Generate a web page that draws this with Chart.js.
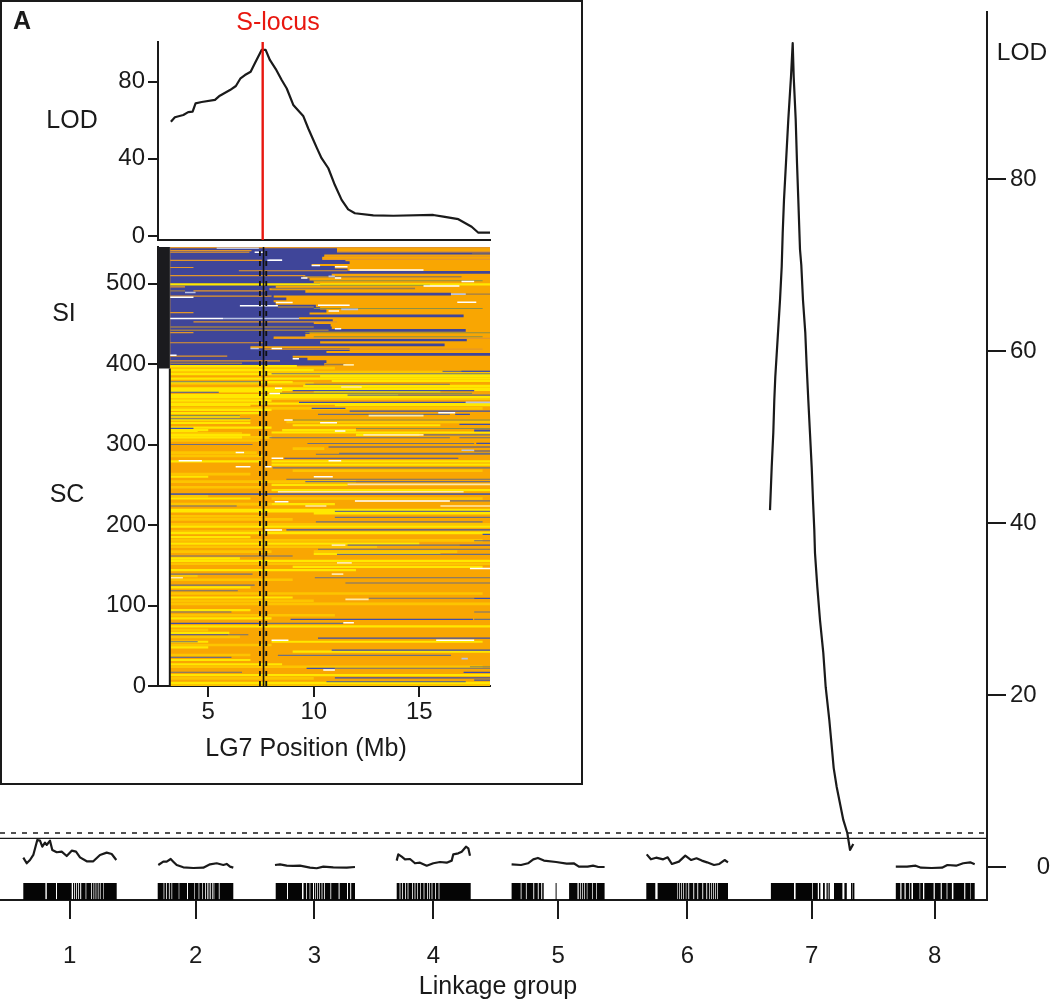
<!DOCTYPE html>
<html><head><meta charset="utf-8"><title>LOD scan</title>
<script src="https://cdn.jsdelivr.net/npm/chart.js@4/dist/chart.umd.js"></script>
<style>
html,body{margin:0;padding:0;background:#fff;overflow:hidden}
#page{position:relative;width:1050px;height:999px;font-family:"Liberation Sans",Arial,sans-serif;color:#1a1a1a}
canvas{position:absolute;display:block}
#inset{position:absolute;left:0;top:0;width:579px;height:781px;border:2px solid #1a1a1a;background:#fff}
.t{position:absolute;font-size:25px;line-height:30px;white-space:nowrap;transform:translate(-50%,-50%)}
</style></head><body><div id="page">
<canvas id="main" width="1050" height="999" style="left:0px;top:0px"></canvas>
<div id="inset"></div>
<canvas id="lod" width="582" height="260" style="left:0px;top:0px"></canvas>
<canvas id="heat" width="582" height="530" style="left:0px;top:245px"></canvas>
<div class="t" style="left:498px;top:985px">Linkage group</div>
<div class="t" style="left:1022px;top:52px;font-size:24.5px">LOD</div>
<div class="t" style="left:22px;top:20px;font-weight:bold">A</div>
<div class="t" style="left:278px;top:21px;color:#e8170f">S-locus</div>
<div class="t" style="left:72px;top:119px">LOD</div>
<div class="t" style="left:64px;top:312px">SI</div>
<div class="t" style="left:67px;top:493px">SC</div>
<div class="t" style="left:306px;top:747px">LG7 Position (Mb)</div>
</div>
<script>
// ---- Main genome scan: position along the map, LOD ----
const linkageGroups=['1','2','3','4','5','6','7','8'];
const lgTicks=[69.7,195.7,314.3,433.3,558.2,687.4,811.6,934.7];
const lodTicks=[0,20,40,60,80];
const thresholdDashed=3.95, thresholdSolid=3.33;
const lg1=[[23.3,1.08],[26.7,.43],[30,.81],[33.3,1.4],[37.3,3.14],[40,3.06],[42.3,2.36],[45,2.83],[46.7,2.56],[50,3.06],[52.3,1.98],[56.7,1.71],[61.7,1.78],[66.7,1.28],[71.7,1.9],[76,1.78],[80,1.12],[86.7,.66],[93.3,.66],[100,1.4],[106.7,1.67],[111.7,1.51],[116.3,.81]];
const lg2=[[158.3,.23],[163.3,.62],[166.7,.62],[170.7,.93],[173.3,.62],[176.7,.23],[183.3,-.04],[193.3,-.12],[203.3,-.08],[210,.31],[216.7,.43],[223.3,.23],[226.7,.35],[230,.04],[233.3,-.08]];
const lg3=[[275,.23],[280,.31],[286.7,.15],[293.3,.12],[300,.15],[310,-.08],[316.7,-.15],[323.3,.04],[333.3,-.04],[346.7,-.08],[355,0]];
const lg4=[[396.7,.74],[398.3,1.47],[401.7,1.2],[405,.89],[410,.93],[415,.43],[420,.5],[426.7,.15],[433.3,.43],[440,.58],[446.7,.5],[451.7,.74],[453.3,1.47],[458.3,1.59],[461.7,1.78],[466,2.36],[468.3,2.17],[470,1.32]];
const lg5=[[511.6,.31],[521,.23],[528,.43],[533.3,.89],[537.9,1.05],[543.9,.74],[556.1,.58],[566.7,.39],[573.7,.43],[578.9,.04],[587.7,.04],[593,.15],[598.2,0],[604.6,0]];
const lg6=[[646.7,1.47],[650.9,.89],[656.1,1.08],[663.2,.89],[667.7,1.12],[671.9,.35],[678.9,.62],[685.3,1.32],[691.2,.81],[696.5,1.01],[701.8,.74],[707,.54],[714,.23],[719.3,.35],[724.6,.81],[728,.54]];
const lg7=[[770,41.5],[771.7,46.5],[773.3,50.5],[774.3,54.3],[775.3,57],[778,62.1],[780,65.9],[781.7,69.8],[782.7,73.7],[784,77.6],[786,81.9],[788.3,86.9],[791,91.9],[792.7,95.8],[793.7,91.9],[795.7,86.9],[797,81.9],[798.3,77.6],[800,71.8],[801.3,70],[803,65.9],[805.3,62.1],[806.7,58.2],[808.3,54.3],[810,50.4],[811.7,46.5],[813,42.6],[814.3,39.2],[815,36.5],[817.3,32.6],[820,28.7],[823.3,24.9],[825.7,20.9],[829.3,17.1],[832.3,13.3],[833.7,11.5],[836.7,9.3],[843.3,5.47],[847.3,3.95],[850,1.98],[853.3,2.67]];
const lg8=[[895.8,.04],[907,.04],[915.8,.15],[921,-.08],[931.6,-.12],[942,-.08],[947.4,.23],[956.1,.15],[963.2,.43],[970.2,.54],[974.7,.31]];
const lgCurves=[lg1,lg2,lg3,lg4,lg5,lg6,lg7,lg8];
// marker blocks along each linkage group
const markerBlocks=[[23.3,45.4],[46.8,56],[57,71.7],[73,74.2],[75,76.2],[77,78.2],[79,80.2],[81.2,85.6],[86.3,91],[91.8,93.5],[94.2,95.6],[96.3,97.8],[98.5,99.9],[100.6,103.4],[104,116.7],
[157.7,163.6],[164.3,166.2],[167,168.9],[169.7,171.5],[172.2,178.7],[179.3,187],[188,194.4],[195,198.6],[199.3,202.3],[203,205.2],[206,207],[207.7,208.6],[209.3,210.3],[211,212],[212.7,213.6],[214.3,218.8],[219.6,233.3],
[275.7,287],[288,302],[303.5,306.2],[307,309.6],[310.3,313],[314,315.3],[316,317.3],[318,319.3],[320,321.6],[322.4,324.2],[325,330.4],[331.2,338.6],[339.6,347],[348,350.2],[351.2,355],
[396.7,399.6],[400.4,402.2],[403,405],[405.8,407.6],[408.4,412],[412.8,414.6],[415.4,417.3],[418,420.3],[421,423.6],[424.4,427],[427.8,429.3],[430,431.6],[432.4,435],[435.8,438.6],[439.4,470.7],
[511.6,520.7],[521.5,525.9],[526.7,533.3],[534.2,537.8],[538.7,541.2],[542.2,543.7],[555.6,556.6],[569.1,577.5],[578.7,580.3],[581,582.3],[583,584.3],[585,586.8],[587.4,592.3],[593,596.3],[597,604.6],
[646.3,655.3],[657.6,677.4],[678,679.3],[680,681.3],[682,683.3],[684,685.8],[686.4,688.3],[689.2,693.3],[694.2,697.3],[698.2,702.3],[703.2,706.3],[707.2,709.3],[710,711.3],[712,713.3],[714,715.3],[716,717.3],[718,728],
[770.9,794],[795.6,812.3],[813,817.8],[819,820.4],[823,824.8],[826.5,827.8],[828.5,829.8],[834,842.4],[844.4,846.8],[851,852.2],[852.6,854.4],
[895.8,900.3],[901.5,904.5],[905.7,909],[909.7,911.5],[913,919.6],[920.2,923],[924.3,933.6],[934.8,940.7],[941.8,946.6],[947.4,951.9],[953.4,964.2],[965.3,970.5],[971,974.7]];
const markerLod=-2.85;

// ---- Inset: LOD along LG7 ----
const insetLod=[[3.23,59.2],[3.42,61.5],[3.82,62.7],[4.05,64.2],[4.26,64.4],[4.4,68.7],[4.69,69.4],[5.32,70.5],[5.55,72.7],[6.03,75.6],[6.31,77.7],[6.53,81.7],[6.74,83.4],[7.01,85.1],[7.21,89.5],[7.53,96.4],[7.72,96.4],[7.92,91.2],[8.2,86.5],[8.48,80.8],[8.72,76.4],[9.03,67.9],[9.5,62.2],[9.74,55.7],[9.98,49.7],[10.15,45.5],[10.37,40.3],[10.69,35.1],[11,26.4],[11.32,18.7],[11.63,13.8],[11.95,11.8],[12.82,10.7],[13.77,10.5],[15.66,10.9],[16.14,10],[16.85,8.7],[17.48,4.8],[17.8,1.7],[18.35,1.7]];
const insetLodTicks=[0,40,80];
const sLocusMb=7.58, ciLow=7.45, ciMid=7.62, ciHigh=7.75;
const posTicks=[5,10,15], rowTicks=[0,100,200,300,400,500];
const siTopRow=545.5, siBottomRow=394.6, xStart=3.18, xEnd=18.35;

// ---- Inset: genotype rows, [row, fromMb, toMb] ----
const siBlue=[[544,3.2,11.1],[541,3.2,11.1],[538,3.2,18.35],[535,3.2,10.5],[532,3.2,10.4],[529,3.2,11.5],[526,3.2,11.7],[523,3.2,9.9],[520,3.2,11],[517,3.2,11.6],[514,3.2,18.35],[511,3.2,10.85],[508,3.2,9.5],[505,3.2,9.8],[502,3.2,10],[499,3.2,10.3],[496,3.2,8.2],[493,3.2,7.9],[490,3.2,9.6],[487,3.2,16.5],[484,3.2,8.1],[481,3.2,8.7],[478,3.2,8.1],[475,3.2,8.2],[472,3.2,10.1],[469,3.2,10.3],[466,3.2,10.6],[463,3.2,9.8],[460,3.2,17.1],[457,3.2,9.3],[454,3.2,10.9],[451,3.2,10],[448,3.2,10.8],[445,3.2,10.85],[442,3.2,17.2],[439,3.2,9.8],[436,3.2,9.6],[433,3.2,8.1],[430,3.2,17.25],[427,3.2,10.3],[424,3.2,16.2],[421,3.2,7],[418,3.2,11.7],[415,3.2,10.6],[412,3.2,18.35],[409,3.2,9],[406,3.2,9.7],[403,3.2,10.6],[400,3.2,10.5]];
const orangeLines=[[544.6,3.2,18.35],[541,3.2,7.05],[539,3.2,6.95],[539.5,11.1,18.35],[534,10.5,18.35],[530,10.4,18.35],[529,3.2,7.55],[520,3.2,4.3],[516,6.45,11.6],[510,3.2,9.6],[496,3.2,3.9],[491,4.3,7.7],[484.4,3.2,8],[464,3.2,4.3],[452.5,4.3,11.1],[439,3.2,4.3],[432,8.1,18.35],[426.5,3.2,7.6],[418.6,7.6,18],[410,3.2,5.9],[404,3.2,8.4]];
const brownLines=[[536.6,17.5,18.35],[508.5,9.5,17],[494,8,14.8],[491,3.2,3.9],[487,17.2,18.35],[471,8.3,10],[446,3.2,10],[442,3.2,10.7],[401,3.2,6.6],[399.5,10.5,11.5]];
const oliveLines=[[503.5,10,18],[498,10.3,15.5],[469,10,18],[439,9.6,18.35],[434,10,18],[363.6,8.4,17.5],[336,3.2,6.5],[330.5,9,18.35],[320,12,18.35],[24,17.4,18.35]];
const yellowLines=[[499,3.2,18.35],[397.5,3.2,9.2],[392.6,3.2,10],[387.5,3.2,18.35],[385,10.3,18.35],[382,3.2,18.35],[379,10.85,18.35],[377.5,3.2,9],[373,9.5,18.35],[370,3.2,18.35],[368,3.2,18.35],[366,3.2,8.5],[366,10,16],[361.5,3.2,14],[359,3.2,18.35],[354.5,3.2,8],[351,3.2,18.35],[349,3.2,7],[349,11,18.35],[343,3.2,8],[339,3.2,7.5],[335,3.2,6.5],[331,3.2,7],[327,3.2,7],[324,9,16],[321,3.2,8],[318,3.2,5],[318,8.5,12],[315,8,18.35],[312,3.2,7],[312,12,15],[317,3.2,4.5],[309,3.2,6.6],[279,3.2,7.5],[279,8,18.35],[275,8,18.35],[260,3.2,5],[250,8,11.6],[243.5,8,18.35],[233,3.2,7],[226,8,11],[219,3.2,18.35],[217,3.2,18.35],[214.5,10,18.35],[198,3.2,18.35],[190,3.2,18.35],[185,3.2,7],[177,3.2,15],[164,10,16],[158.5,3.2,6.5],[155.6,3.2,18.35],[148,9,18],[144,3.2,12],[122.5,3.2,7],[110,3.2,9],[94.4,3.2,7],[84,3.2,8],[74,3.2,18.35],[66,3.2,6],[55,3.2,5],[55,8,18],[48,3.2,5],[42.6,9,18.35],[32.3,3.2,7],[27,3.2,8.5],[13.6,3.2,18.35],[4,3.2,18.35]];
const goldLines=[[395,3.2,11],[390,3.2,18.35],[376,3.2,10],[357,3.2,18.35],[345,3.2,18],[328,8.7,18.35],[309,3.2,8],[314,3.2,6.6],[305,3.2,7.45],[295,9,10.5],[290,3.2,7.3],[286,3.2,7.6],[267.5,9,18],[263.3,3.2,7],[254,3.2,12],[247,3.2,7.5],[236,3.2,5],[233,8,18],[226,3.2,8],[211,3.2,7.7],[207,3.2,9],[201,3.2,18.35],[192,3.2,18.35],[181,3.2,18],[173,3.2,13],[167,3.2,8],[167,10,16.8],[152,3.2,18.35],[136.6,3.2,4.5],[132,3.2,9],[115,3.2,18],[106,3.2,10],[102,3.2,18.35],[88,3.2,11],[69.5,3.2,5],[61,3.2,6.5],[51,3.2,8],[38.5,3.2,7],[24,3.2,18],[9.5,3.2,10],[1,3.2,18.35]];
const greyLines=[[391,16.1,18.35],[388,8,18.35],[378,3.2,7.4],[375,9.6,16.45],[361.5,11.6,18.35],[337.5,10.2,16.45],[332,3.2,7],[312,15.2,18.35],[308.5,7.9,16.45],[308.5,16.9,18.35],[301.4,9.7,17.6],[300,3.2,7.1],[289,11.2,18.35],[288,10.1,18.35],[271,8.05,18.35],[257,8.7,18.35],[254,9.6,18.35],[238.5,3.2,18.35],[230,16.45,18.35],[223.6,3.2,6.35],[217,11,18.35],[209.5,11,18.35],[204,10.1,18],[180.5,17.6,18.35],[175,11.6,16.9],[170,10.2,18.35],[163.5,11.1,18.35],[161.5,3.2,9],[139,3.2,7.1],[134.5,10.05,18.35],[128,11.5,18.35],[125.4,3.2,7.2],[118.4,3.2,6.4],[109,12.6,17.6],[92,3.2,6.1],[92,17.6,18.35],[82.8,17.6,18.35],[77.8,7.45,11.4],[63.7,5.95,6.9],[55,3.2,4.5],[38,8.3,16.5],[35.6,3.2,6.1],[22,11,18.35],[17,3.2,6.6],[5.4,10.6,17.2]];
const blueLines=[[391,17,18.35],[367,9,17.6],[365,3.2,5.5],[352.4,9.3,17.2],[345,9.9,11.5],[341.6,11.7,18.35],[337.5,16.7,17.4],[325,16.9,18.35],[320,3.2,4.3],[318,17.6,18.35],[317,17.6,18.35],[301.4,17.7,18.35],[297,10.7,18.35],[292,17.6,18.35],[283,8.6,16.85],[238.5,3.2,18.35],[194,8.7,18.35],[188.4,18,18.35],[175,16.9,18.35],[109,17.6,18.35],[82.8,8.9,17.55],[77.8,3.2,7.45],[63.7,3.2,5.95],[59.6,10.2,18.35],[44.7,10.85,18.35],[22,9.66,11],[17,17.1,18.35],[10,11,18.35],[7.4,17.6,18.35]];
const whiteLines=[[539,7.2,7.6],[529,7.8,8.5],[522.5,9.9,10.3],[521,11,11.6],[517,11.7,15.2],[507,9.4,9.7],[507,11,11.3],[502.6,17,17.6],[497,15.2,16.9],[483,3.2,4.3],[477,16.8,17.7],[476.6,8.2,9],[472.4,6.5,8.3],[473,10.2,11.7],[466,10.7,11.2],[456.7,3.2,5.7],[444,11,11.3],[419.4,8,8.5],[411,3.2,3.5],[406.6,9,9.3],[370,8.16,8.5],[363.6,7.9,8.4],[339.6,15.9,16.7],[330.5,8.6,9],[327,10.3,11.1],[317,11,11.5],[290,6.3,6.7],[283,8,8.55],[280,3.6,4.7],[280,10.7,11.3],[272.5,6.3,7],[272.5,7.7,8],[260,10,10.9],[230,11.95,16.45],[229,8.15,8.8],[194,7.7,8.5],[146,17.4,18.35],[78.6,11.4,11.9],[57,8,8.8],[57,15.8,17.6],[20,10.45,11]];
const paleLines=[[544,5.4,7.4],[529,7.9,8.5],[509,10.7,11],[489,3.9,4.4],[487,16.5,17.2],[468,11.3,12.1],[456.7,5.7,9.3],[419.4,7,7.4],[352.4,17.2,18.35],[293,17,17.6],[34,17,17.3]];
const creamLines=[[399,11.4,11.9],[371.5,11.3,12.27],[336,12.6,15.2],[312,12.35,15.2],[250.5,11.6,18.35],[241.4,8.3,17.1],[223.6,16,18.35],[223.6,9.6,10.6],[175,10.85,11.5],[153,11.1,11.8],[139,10.85,11.4],[134.5,3.2,3.8],[107.6,11.5,12.6]];

const pts=a=>a.map(p=>({x:p[0],y:p[1]}));
const segs=a=>a.flatMap(s=>[{x:s[1],y:s[0]},{x:s[2],y:s[0]},{x:s[2],y:null}]);
const ink='#1a1a1a';
const F=s=>({family:'"Liberation Sans",Arial,sans-serif',size:s});
const base={responsive:false,animation:false,devicePixelRatio:1,
  plugins:{legend:{display:false},tooltip:{enabled:false}},
  elements:{point:{radius:0},line:{tension:0,borderCapStyle:'butt',borderJoinStyle:'round'}}};
const line=(data,color,width,extra)=>Object.assign({data,showLine:true,borderColor:color,borderWidth:width,pointRadius:0,fill:false,spanGaps:false},extra||{});
const setTicks=v=>s=>{s.ticks=v.map(value=>({value}))};
const fitY=w=>s=>{s.width=w;s.paddingTop=0;s.paddingBottom=0};

// main chart
new Chart(document.getElementById('main'),{type:'scatter',data:{datasets:[
  ...lgCurves.map(c=>line(pts(c),ink,2.2,{order:1})),
  line(markerBlocks.flatMap(b=>[{x:b[0],y:markerLod},{x:b[1],y:markerLod},{x:b[1],y:null}]),'#050505',17,{order:2}),
  line([{x:0,y:thresholdDashed},{x:987,y:thresholdDashed}],ink,1.4,{borderDash:[5,6],order:3}),
  line([{x:0,y:thresholdSolid},{x:987,y:thresholdSolid}],ink,1.4,{order:3})
]},options:{...base,layout:{padding:{top:12,left:0,right:0,bottom:0}},scales:{
  x:{type:'linear',min:0,max:987,afterBuildTicks:setTicks(lgTicks),afterFit(s){s.height=99},
     border:{color:ink,width:2},grid:{drawOnChartArea:false,color:ink,lineWidth:2,tickLength:19},
     ticks:{color:ink,font:F(24),padding:23,maxRotation:0,autoSkip:false,callback:(v,i)=>linkageGroups[i]}},
  y:{type:'linear',position:'right',min:-3.84,max:99.42,afterBuildTicks:setTicks(lodTicks),afterFit:fitY(63),
     border:{color:ink,width:2},grid:{drawOnChartArea:false,color:ink,lineWidth:2,tickLength:19},
     ticks:{color:ink,font:F(24),padding:4,autoSkip:false,callback:v=>v===0?'    0':String(v)}}
}}});

// inset LOD
new Chart(document.getElementById('lod'),{type:'scatter',data:{datasets:[
  line([{x:sLocusMb,y:-2.07},{x:sLocusMb,y:100.5}],'#e8170f',2.4,{order:0}),
  line(pts(insetLod),ink,2.2,{order:1})
]},options:{...base,layout:{padding:{top:42,left:0,right:92,bottom:0}},scales:{
  x:{type:'linear',min:2.62,max:18.35,afterFit(s){s.height=20},border:{color:ink,width:2},grid:{display:false,drawTicks:false},ticks:{display:false}},
  y:{type:'linear',min:-2.07,max:100.5,afterBuildTicks:setTicks(insetLodTicks),afterFit:fitY(158),
     border:{color:ink,width:2},grid:{drawOnChartArea:false,color:ink,lineWidth:2,tickLength:10},
     ticks:{color:ink,font:F(24),padding:3,autoSkip:false}}
}}});

// inset genotype map
const h=(a,c,w,o)=>line(segs(a),c,w,{order:o});
new Chart(document.getElementById('heat'),{type:'scatter',data:{datasets:[
  line([{x:xStart,y:siTopRow},{x:xEnd,y:siTopRow}],'#f9a602',0,{fill:'origin',backgroundColor:'#f9a602',order:20}),
  h(siBlue,'#3f4599',2.8,19),
  h(goldLines,'#fdc500',2.6,18),
  h(yellowLines,'#ffe800',2.2,17),
  h(orangeLines,'#e3962a',1.2,16),
  h(brownLines,'#9c7c4c',1.4,15),
  h(oliveLines,'#8c8f45',1.1,14),
  h(greyLines,'#6f6f7e',1.1,13),
  h(blueLines,'#3f4ea8',1.2,12),
  h(creamLines,'#ffe9a8',1.6,11),
  h(paleLines,'#b9c2e2',1.6,10),
  h(whiteLines,'#ffffff',1.5,9),
  line([{x:ciMid,y:0},{x:ciMid,y:siTopRow}],'#111',1.6,{order:1}),
  line([{x:ciLow,y:0},{x:ciLow,y:siTopRow}],'#111',1.8,{borderDash:[5,5],order:1}),
  line([{x:ciHigh,y:0},{x:ciHigh,y:siTopRow}],'#111',1.8,{borderDash:[5,5],order:1}),
  line([{x:xStart,y:0},{x:xStart,y:siBottomRow}],'#1a1a1a',2,{order:1}),
  line([{x:2.9,y:siBottomRow},{x:2.9,y:siTopRow}],'#1b1b1e',12,{order:1})
]},options:{...base,layout:{padding:{top:2,left:0,right:92,bottom:0}},scales:{
  x:{type:'linear',min:2.62,max:18.35,afterBuildTicks:setTicks(posTicks),afterFit(s){s.height=89},
     border:{color:ink,width:2},grid:{drawOnChartArea:false,color:ink,lineWidth:2,tickLength:11},
     ticks:{color:ink,font:F(24),padding:1,maxRotation:0,autoSkip:false}},
  y:{type:'linear',min:0,max:siTopRow,afterBuildTicks:setTicks(rowTicks),afterFit:fitY(158),
     border:{color:ink,width:2},grid:{drawOnChartArea:false,color:ink,lineWidth:2,tickLength:10},
     ticks:{color:ink,font:F(24),padding:2,autoSkip:false}}
}}});
</script></body></html>
